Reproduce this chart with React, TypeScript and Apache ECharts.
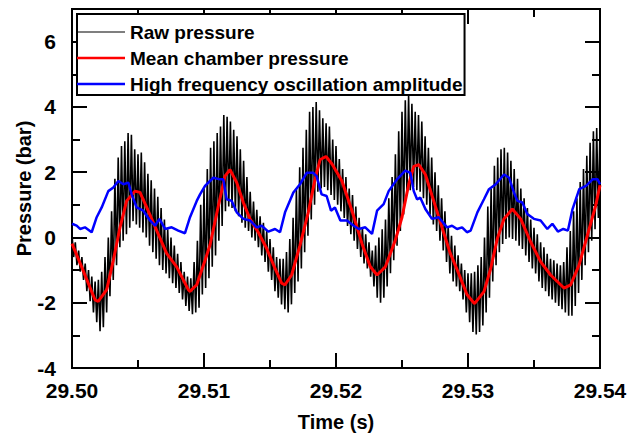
import React, { useEffect, useRef } from 'react';
import * as echarts from 'echarts';

const T0 = 29.5;
const RAW_STEP = 0.000125;
const FONT = '"Liberation Sans", Arial, sans-serif';

// Raw pressure (bar), sampled every 0.125 ms, alternating crest / trough of the HF oscillation
const rawPressure = [
  0.1, -0.6, -0.15, -0.85, -0.4, -1.05, -0.6, -1.3, -0.8, -1.65, -1.0, -1.95, -1.2, -2.3, -1.35, -2.6,
  -1.3, -2.87, -1.05, -2.75, -0.6, -2.3, 0.0, -1.8, 0.8, -1.3, 1.8, -0.85, 2.45, -0.3, 2.8, -0.1,
  2.95, 0.1, 3.2, 0.3, 3.15, 0.5, 2.7, 0.4, 2.55, 0.3, 2.6, 0.15, 2.3, 0.0, 1.95, -0.25,
  1.75, -0.45, 1.5, -0.65, 1.25, -0.85, 0.9, -1.0, 0.55, -1.1, 0.25, -1.25, 0.0, -1.4, -0.25, -1.55,
  -0.5, -1.7, -0.75, -1.9, -1.05, -2.1, -1.2, -2.25, -1.25, -2.35, -0.75, -2.3, -0.1, -2.15, 1.0, -1.75,
  1.5, -1.55, 2.1, -1.25, 2.75, -0.9, 2.95, -0.55, 3.2, -0.1, 3.4, 0.35, 3.75, 0.8, 3.7, 0.95,
  3.55, 0.9, 3.3, 0.8, 3.1, 0.65, 2.7, 0.45, 2.35, 0.3, 1.85, 0.2, 1.4, 0.0, 1.1, -0.1,
  0.85, -0.3, 0.65, -0.55, 0.45, -0.75, 0.2, -1.05, -0.05, -1.3, -0.3, -1.65, -0.6, -1.85, -0.65, -2.05,
  -0.65, -2.2, -0.45, -2.3, -0.05, -2.05, 0.6, -1.7, 1.5, -1.35, 2.15, -0.95, 2.75, -0.45, 3.3, 0.05,
  3.85, 0.55, 4.0, 1.0, 4.15, 1.4, 3.9, 1.5, 3.65, 1.55, 3.5, 1.45, 3.4, 1.3, 3.0, 1.15,
  2.8, 1.0, 2.4, 0.8, 2.1, 0.6, 1.85, 0.35, 1.5, 0.1, 1.3, -0.1, 0.95, -0.35, 0.6, -0.6,
  0.3, -0.8, 0.1, -0.95, -0.15, -1.2, -0.4, -1.5, -0.25, -1.85, 0.0, -2.0, 0.25, -1.85, 0.55, -1.5,
  1.2, -1.1, 1.85, -0.7, 2.55, -0.25, 3.25, 0.2, 3.85, 0.7, 4.2, 1.3, 4.35, 1.45, 4.1, 1.55,
  3.85, 1.45, 3.75, 1.4, 3.55, 1.2, 3.1, 1.0, 2.75, 0.7, 2.45, 0.4, 2.0, 0.2, 1.6, -0.1,
  1.2, -0.4, 0.8, -0.75, 0.35, -1.1, 0.05, -1.35, -0.25, -1.5, -0.55, -1.65, -0.8, -1.9, -1.0, -2.3,
  -1.1, -2.6, -1.1, -2.9, -1.05, -2.97, -0.85, -2.9, -0.6, -2.7, 0.0, -2.3, 0.95, -1.85, 1.5, -1.35,
  2.2, -0.85, 2.45, -0.45, 2.7, -0.2, 2.75, -0.05, 2.6, 0.0, 2.35, -0.05, 2.1, -0.1, 1.8, -0.25,
  1.5, -0.35, 1.2, -0.55, 0.9, -0.75, 0.55, -0.95, 0.3, -1.1, 0.1, -1.35, -0.15, -1.55, -0.3, -1.65,
  -0.5, -1.8, -0.65, -1.9, -0.7, -2.0, -0.8, -2.1, -0.85, -2.2, -0.75, -2.3, -0.3, -2.4, 0.2, -2.4,
  0.8, -2.1, 1.2, -1.7, 1.7, -1.3, 2.1, -0.85, 2.5, -0.45, 2.9, -0.1, 3.25, 0.25, 3.35, 0.6,
  3.4,
];

// Mean chamber pressure: time in ms after 29.50 s, value in bar
const meanTimeMs = [
  0, 0.73, 1.74, 1.99, 2.63, 3.13, 3.64, 4.14, 4.77, 5.15, 5.66, 6.42, 7.17, 7.93, 8.81, 8.94,
  9.45, 10.08, 10.45, 11.09, 11.59, 11.97, 12.48, 12.98, 13.48, 14.11, 14.75, 15.38, 15.88, 16.14,
  16.64, 17.27, 17.9, 18.41, 18.79, 19.24, 19.7, 19.92, 20.45, 21.21, 21.97, 22.6, 23.11, 23.74,
  24.49, 25.0, 25.51, 25.89, 26.27, 26.77, 27.4, 28.03, 28.66, 29.29, 29.92, 30.45, 30.51, 31.21,
  31.72, 32.22, 32.73, 33.36, 33.99, 34.75, 35.51, 36.26, 37.27, 37.78, 38.41, 39.04, 39.67, 40.0,
];
const meanPressure = [
  -0.19, -0.9, -1.91, -1.96, -1.6, -0.7, 0.31, 1.12, 1.42, 1.38, 0.92, 0.21, -0.49, -0.9, -1.6, -1.65,
  -1.45, -0.7, -0.24, 0.97, 1.88, 2.08, 1.68, 1.07, 0.57, 0.16, -0.34, -0.95, -1.4, -1.45,
  -1.15, -0.24, 0.77, 1.78, 2.38, 2.48, 2.25, 2.1, 1.73, 0.82, -0.19, -0.9, -1.15, -0.9,
  -0.09, 0.62, 1.63, 2.18, 2.23, 1.93, 1.12, 0.31, -0.49, -1.1, -1.75, -2.01, -2.02, -1.66,
  -0.95, -0.04, 0.57, 0.87, 0.57, -0.14, -0.75, -1.15, -1.55, -1.45, -0.85, 0.06, 0.97, 1.6,
];

// High frequency oscillation amplitude: time in ms after 29.50 s, value in bar
const ampTimeMs = [
  0, 0.35, 0.61, 0.98, 1.49, 1.87, 2.25, 2.75, 3.13, 3.51, 3.89, 4.27, 4.52, 4.9, 5.4, 5.91,
  6.29, 6.62, 7.05, 7.55, 8.05, 8.56, 8.94, 9.45, 9.7, 10.08, 10.2, 10.71, 11.21, 11.46, 11.72, 12.1,
  12.48, 12.98, 13.48, 13.99, 14.37, 14.87, 15.38, 15.76, 16.14, 16.77, 17.27, 17.78, 18.28, 18.53,
  18.91, 19.29, 19.62, 19.92, 20.33, 20.83, 21.34, 21.72, 22.22, 22.73, 23.11, 23.61, 23.99, 24.62,
  25.25, 25.63, 25.89, 26.14, 26.39, 26.77, 27.27, 27.78, 28.41, 28.79, 29.17, 29.55, 29.92, 30.2,
  30.71, 31.21, 31.59, 32.1, 32.73, 33.11, 33.48, 33.74, 34.12, 34.49, 34.99, 35.5, 36.01, 36.39,
  36.81, 37.22, 37.57, 37.92, 38.43, 38.94, 39.44, 39.82, 40.0,
];
const ampPressure = [
  0.42, 0.36, 0.26, 0.31, 0.16, 0.62, 0.92, 1.42, 1.53, 1.73, 1.63, 1.68, 1.32, 0.92, 0.82, 0.52,
  0.36, 0.57, 0.26, 0.31, 0.21, 0.13, 0.62, 1.12, 1.32, 1.58, 1.63, 1.83, 1.78, 1.78, 1.17, 1.12,
  0.77, 0.57, 0.52, 0.31, 0.36, 0.18, 0.26, 0.16, 0.77, 1.38, 1.63, 1.98, 1.98, 1.88,
  1.32, 1.27, 0.82, 0.92, 0.52, 0.52, 0.36, 0.26, 0.31, 0.11, 0.82, 1.02, 1.42, 1.78,
  2.05, 1.98, 1.42, 1.17, 1.22, 0.87, 0.57, 0.62, 0.31, 0.36, 0.26, 0.31, 0.16, 0.21,
  0.77, 1.17, 1.48, 1.63, 1.93, 1.83, 1.38, 1.12, 1.07, 0.72, 0.57, 0.52, 0.26, 0.42,
  0.18, 0.26, 0.21, 0.87, 1.48, 1.58, 1.78, 1.78, 1.63,
];

const seriesNames = ['Raw pressure', 'Mean chamber pressure', 'High frequency oscillation amplitude'];
const seriesColors = ['#000000', '#ff0000', '#0000ff'];
const legendIcons = [
  'path://M0,0H48V1.2H0Z',
  'path://M0,0H48V2.6H0Z',
  'path://M0,0H48V2.4H0Z',
];
const X_MIN = 29.5;
const X_MAX = 29.54;
const X_MAJOR = 0.01;
const X_MINOR = 0.005;
const Y_MIN = -4;
const Y_MAX = 7;
const Y_MAJOR = 2;
const Y_MINOR = 1;

export default function App() {
  const ref = useRef<HTMLDivElement>(null);

  useEffect(() => {
    if (!ref.current) return;
    const chart = echarts.init(ref.current, undefined, { renderer: 'svg' });

    const rawData = rawPressure.map((v, i) => [T0 + i * RAW_STEP, v]);
    const meanData = meanTimeMs.map((ms, i) => [T0 + ms / 1000, meanPressure[i]]);
    const ampData = ampTimeMs.map((ms, i) => [T0 + ms / 1000, ampPressure[i]]);

    const lineStyle = { color: '#000', width: 2 };
    const textBase = { color: '#000', fontFamily: FONT, fontWeight: 'bold' as const };

    const xAxis = (position: 'bottom' | 'top', interval: number, tickLen: number, labels: boolean) => ({
      type: 'value',
      position,
      min: X_MIN,
      max: X_MAX,
      interval,
      splitLine: { show: false },
      axisLine: { show: true, onZero: false, lineStyle },
      axisTick: { show: true, inside: true, length: tickLen, lineStyle },
      axisLabel: labels
        ? { show: true, margin: 12, fontSize: 21, ...textBase, formatter: (v: number) => v.toFixed(2) }
        : { show: false },
      ...(labels
        ? {
            name: 'Time (s)',
            nameLocation: 'middle',
            nameGap: 44,
            nameMoveOverlap: false,
            nameTextStyle: { fontSize: 20, ...textBase },
          }
        : {}),
    });

    const yAxis = (position: 'left' | 'right', interval: number, tickLen: number, labels: boolean) => ({
      type: 'value',
      position,
      min: Y_MIN,
      max: Y_MAX,
      interval,
      splitLine: { show: false },
      axisLine: { show: true, onZero: false, lineStyle },
      axisTick: { show: true, inside: true, length: tickLen, lineStyle },
      axisLabel: labels
        ? { show: true, margin: 16, fontSize: 21, showMaxLabel: false, ...textBase }
        : { show: false },
      ...(labels
        ? {
            name: 'Pressure (bar)',
            nameLocation: 'middle',
            nameGap: 38,
            nameMoveOverlap: false,
            nameTextStyle: { fontSize: 20, ...textBase },
          }
        : {}),
    });

    chart.setOption({
      animation: false,
      backgroundColor: '#ffffff',
      grid: { left: 72, right: 38, top: 9, bottom: 66, containLabel: false },
      legend: {
        orient: 'vertical',
        left: 77,
        top: 14,
        itemWidth: 48,
        itemHeight: 14,
        itemGap: 4,
        symbolKeepAspect: true,
        padding: [7, 2, 0, 0],
        backgroundColor: '#ffffff',
        borderColor: '#000000',
        borderWidth: 2,
        borderRadius: 0,
        data: seriesNames.map((name, i) => ({ name, icon: legendIcons[i] })),
        textStyle: { fontSize: 19, lineHeight: 22, ...textBase },
        z: 10,
      },
      xAxis: [
        xAxis('bottom', X_MAJOR, 15, true),
        xAxis('bottom', X_MINOR, 8, false),
        xAxis('top', X_MAJOR, 15, false),
        xAxis('top', X_MINOR, 8, false),
      ],
      yAxis: [
        yAxis('left', Y_MAJOR, 15, true),
        yAxis('left', Y_MINOR, 8, false),
        yAxis('right', Y_MAJOR, 15, false),
        yAxis('right', Y_MINOR, 8, false),
      ],
      series: [
        {
          name: seriesNames[0],
          type: 'line',
          data: rawData,
          showSymbol: false,
          symbol: 'none',
          lineStyle: { color: seriesColors[0], width: 1.6 },
          itemStyle: { color: seriesColors[0] },
          z: 2,
        },
        {
          name: seriesNames[1],
          type: 'line',
          data: meanData,
          showSymbol: false,
          symbol: 'none',
          lineStyle: { color: seriesColors[1], width: 3 },
          itemStyle: { color: seriesColors[1] },
          z: 3,
        },
        {
          name: seriesNames[2],
          type: 'line',
          data: ampData,
          showSymbol: false,
          symbol: 'none',
          lineStyle: { color: seriesColors[2], width: 2.5 },
          itemStyle: { color: seriesColors[2] },
          z: 4,
        },
      ],
    });

    return () => chart.dispose();
  }, []);

  return (
    <div
      ref={ref}
      style={{ position: 'fixed', left: 0, top: 0, width: 638, height: 437, background: '#fff' }}
    />
  );
}
